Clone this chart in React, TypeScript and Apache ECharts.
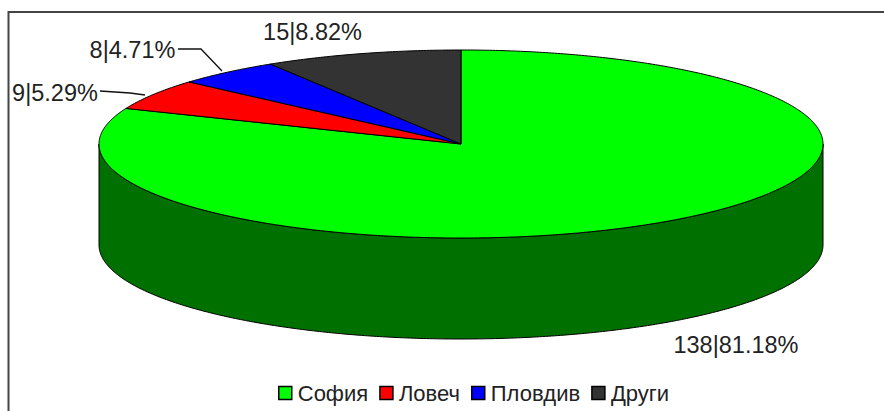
import React, { useEffect, useRef } from "react";
import * as echarts from "echarts";

const categories = ["София", "Ловеч", "Пловдив", "Други"];
const counts = [138, 9, 8, 15];
const colors = ["#00ff00", "#ff0000", "#0000ff", "#333333"];
const wallColors = ["#007000", "#800000", "#000080", "#1a1a1a"];

const total = counts.reduce((a, b) => a + b, 0);
const CX = 461, CY = 144, RX = 362, RY = 94, DEPTH = 101;
const FONT = "Liberation Sans, Arial, sans-serif";

const pt = (deg: number, dy = 0): number[] => {
  const r = (deg * Math.PI) / 180;
  return [CX + RX * Math.sin(r), CY - RY * Math.cos(r) + dy];
};
const arc = (a: number, b: number, dy = 0): number[][] => {
  const out: number[][] = [];
  const n = Math.max(2, Math.ceil(Math.abs(b - a) * 2));
  for (let i = 0; i <= n; i++) out.push(pt(a + ((b - a) * i) / n, dy));
  return out;
};

// label anchor and leader line for each category
const labelLayout = [
  { x: 736, y: 345, align: "center", leader: null },
  { x: 55, y: 93, align: "center", leader: [[100, 91], [130, 93], [145, 95]] },
  { x: 132.5, y: 50, align: "center", leader: [[178, 49], [201, 49], [222, 71]] },
  { x: 312.5, y: 32, align: "center", leader: null },
];

const stroke = { stroke: "#000", lineWidth: 1 };

const makeSeries = (index: number): any => ({
  type: "custom",
  name: categories[index],
  coordinateSystem: "none",
  silent: true,
  itemStyle: { color: colors[index], borderColor: "#000", borderWidth: 1 },
  data: [[counts[index]]],
  renderItem: (_params: any, api: any) => {
    const value = api.value(0);
    const before = counts.slice(0, index).reduce((a, b) => a + b, 0);
    const start = (before / total) * 360;
    const end = start + (value / total) * 360;
    const children: any[] = [];
    const wa = Math.max(start, 90), wb = Math.min(end, 270);
    if (wb > wa) {
      children.push({
        type: "polygon",
        shape: { points: [...arc(wa, wb), ...arc(wb, wa, DEPTH)] },
        style: { fill: wallColors[index], ...stroke },
      });
    }
    children.push({
      type: "polygon",
      shape: { points: [[CX, CY], ...arc(start, end)] },
      style: { fill: colors[index], ...stroke },
    });
    const l = labelLayout[index];
    if (l.leader) {
      children.push({
        type: "polyline",
        shape: { points: l.leader },
        style: { fill: "none", stroke: "#111", lineWidth: 1.3 },
      });
    }
    children.push({
      type: "text",
      x: l.x,
      y: l.y,
      style: {
        text: `${value}|${((value / total) * 100).toFixed(2)}%`,
        font: `23.5px ${FONT}`,
        fill: "#222",
        textAlign: l.align,
        textVerticalAlign: "middle",
      },
    });
    return { type: "group", children };
  },
});

export default function App() {
  const ref = useRef<HTMLDivElement>(null);
  useEffect(() => {
    document.body.style.margin = "0";
    const chart = echarts.init(ref.current!, null, { renderer: "svg" });
    chart.setOption({
      animation: false,
      backgroundColor: "#fff",
      graphic: [
        {
          type: "polyline",
          silent: true,
          shape: { points: [[8.5, 420], [8.5, 12], [900, 12]] },
          style: { fill: "none", stroke: "#444", lineWidth: 2 },
        },
      ],
      legend: {
        data: categories,
        left: 278,
        top: 382,
        orient: "horizontal",
        icon: "rect",
        itemWidth: 13,
        itemHeight: 13,
        itemGap: 11,
        padding: 0,
        selectedMode: false,
        itemStyle: { borderColor: "#000", borderWidth: 1.5 },
        textStyle: { fontFamily: FONT, fontSize: 22, color: "#222", padding: [0, 0, 0, 1] },
      },
      series: categories.map((_, i) => makeSeries(i)),
    });
    return () => chart.dispose();
  }, []);
  return <div ref={ref} style={{ position: "fixed", left: 0, top: 0, width: 884, height: 411 }} />;
}
